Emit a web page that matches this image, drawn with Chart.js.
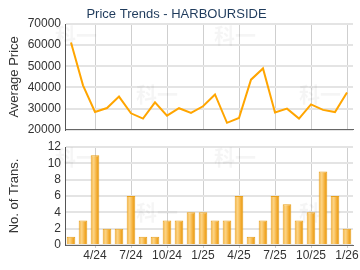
<!DOCTYPE html>
<html>
<head>
<meta charset="utf-8">
<script src="https://cdn.jsdelivr.net/npm/chart.js@4.4.0/dist/chart.umd.min.js"></script>
<style>
  html, body { margin: 0; padding: 0; background: #fff; }
  .box { position: absolute; left: 0; width: 360px; }
</style>
</head>
<body>
<div class="box" style="top:0;height:141px"><canvas id="priceChart"></canvas></div>
<div class="box" style="top:135px;height:135px"><canvas id="transChart"></canvas></div>
<script>
// Price trends + transactions, monthly 2/24 .. 1/26

const months = ['2/24', '3/24', '4/24', '5/24', '6/24', '7/24', '8/24', '9/24', '10/24', '11/24', '12/24',
    '1/25', '2/25', '3/25', '4/25', '5/25', '6/25', '7/25', '8/25', '9/25', '10/25', '11/25', '12/25', '1/26'];
const avgPrice = [61300, 41000, 28400, 30300, 35700, 27800, 25300, 33000, 26700, 30200, 28000, 31100,
    36700, 23300, 25600, 43700, 49000, 28200, 30000, 25300, 32000, 29400, 28400, 37600];
const transCount = [1, 3, 11, 2, 2, 6, 1, 1, 3, 3, 4, 4, 3, 3, 6, 1, 3, 6, 5, 3, 4, 9, 6, 2];
const priceTicks = [20000, 30000, 40000, 50000, 60000, 70000];
const transTicks = [0, 2, 4, 6, 8, 10, 12];

const FONT = 'Arial, "Liberation Sans", sans-serif';
const TEXT = '#333333';

Chart.defaults.font.family = FONT;
Chart.defaults.color = TEXT;
Chart.defaults.animation = false;

// faint "科一" watermark behind the plot, same pattern on both charts
const watermark = {
    id: 'watermark',
    beforeDatasetsDraw(chart) {
        const a = chart.chartArea;
        const h = a.bottom - a.top;
        const spots = [[11, 0.10], [170, 0.10], [92, 0.66], [255, 0.66]];
        const c = chart.ctx;
        c.save();
        c.fillStyle = 'rgba(0,0,0,0.04)';
        c.font = 'bold 21px "Noto Sans CJK SC"';
        c.textAlign = 'center';
        c.textBaseline = 'middle';
        spots.forEach(p => c.fillText('科一', a.left + p[0], a.top + p[1] * h));
        c.restore();
    }
};

function fixWidth(scale) { scale.width = 65; }

function xAxis(showLabels) {
    return {
        offset: true,
        grid: {
            offset: false,
            color: ctx => (ctx.index % 3 === 2 ? '#cfcfcf' : 'rgba(0,0,0,0)'),
            lineWidth: 1,
            drawTicks: showLabels,
            tickLength: 3
        },
        border: { color: '#666', width: 1 },
        ticks: {
            display: showLabels,
            autoSkip: false,
            maxRotation: 0,
            padding: 0,
            font: { size: 12 },
            color: TEXT,
            callback: (v, i) => (i % 3 === 2 ? months[i] : '')
        }
    };
}

function yAxis(min, max, list, label) {
    return {
        min: min,
        max: max,
        afterFit: fixWidth,
        afterBuildTicks: s => { s.ticks = list.map(v => ({ value: v })); },
        grid: { color: '#e4e4e4', lineWidth: 2, drawTicks: false },
        border: { color: '#555', width: 1 },
        ticks: { autoSkip: false, font: { size: 12 }, color: TEXT, padding: 4, callback: v => String(v) },
        title: { display: true, text: label, font: { size: 13 }, color: TEXT, padding: { top: 7, bottom: 0 } }
    };
}

const priceChart = new Chart(document.getElementById('priceChart'), {
    type: 'line',
    data: {
        labels: months,
        datasets: [{
            data: avgPrice,
            borderColor: '#FFA500',
            borderWidth: 2,
            pointRadius: 0,
            tension: 0,
            fill: false
        }]
    },
    options: {
        responsive: true,
        maintainAspectRatio: false,
        layout: { padding: { left: 0, right: 7, top: 0, bottom: 0 } },
        plugins: {
            legend: { display: false },
            tooltip: { enabled: false },
            title: {
                display: true,
                text: 'Price Trends - HARBOURSIDE',
                color: '#1F3B5C',
                font: { size: 13, weight: 'normal' },
                padding: { top: 7, bottom: 1.4 }
            }
        },
        scales: {
            x: xAxis(false),
            y: yAxis(20000, 70000, priceTicks, 'Average Price')
        }
    },
    plugins: [watermark]
});

function barFill(ctx) {
    const chart = ctx.chart;
    const xs = chart.scales.x;
    if (!xs || !chart.chartArea) return '#F6B547';
    const cx = xs.getPixelForValue(ctx.dataIndex);
    const w = (chart.chartArea.right - chart.chartArea.left) / months.length * 0.72;
    const g = chart.ctx.createLinearGradient(cx - w / 2, 0, cx + w / 2, 0);
    g.addColorStop(0, '#F5B23E');
    g.addColorStop(0.35, '#FCD486');
    g.addColorStop(0.7, '#F4AE35');
    g.addColorStop(1, '#E39208');
    return g;
}

const transChart = new Chart(document.getElementById('transChart'), {
    type: 'bar',
    data: {
        labels: months,
        datasets: [{
            data: transCount,
            backgroundColor: barFill,
            borderColor: '#E8A11E',
            borderWidth: 1,
            barPercentage: 0.72,
            categoryPercentage: 1
        }]
    },
    options: {
        responsive: true,
        maintainAspectRatio: false,
        layout: { padding: { left: 0, right: 7, top: 12, bottom: 7.6 } },
        plugins: {
            legend: { display: false },
            tooltip: { enabled: false }
        },
        scales: {
            x: xAxis(true),
            y: yAxis(0, 12, transTicks, 'No. of Trans.')
        }
    },
    plugins: [watermark]
});
</script>
</body>
</html>
